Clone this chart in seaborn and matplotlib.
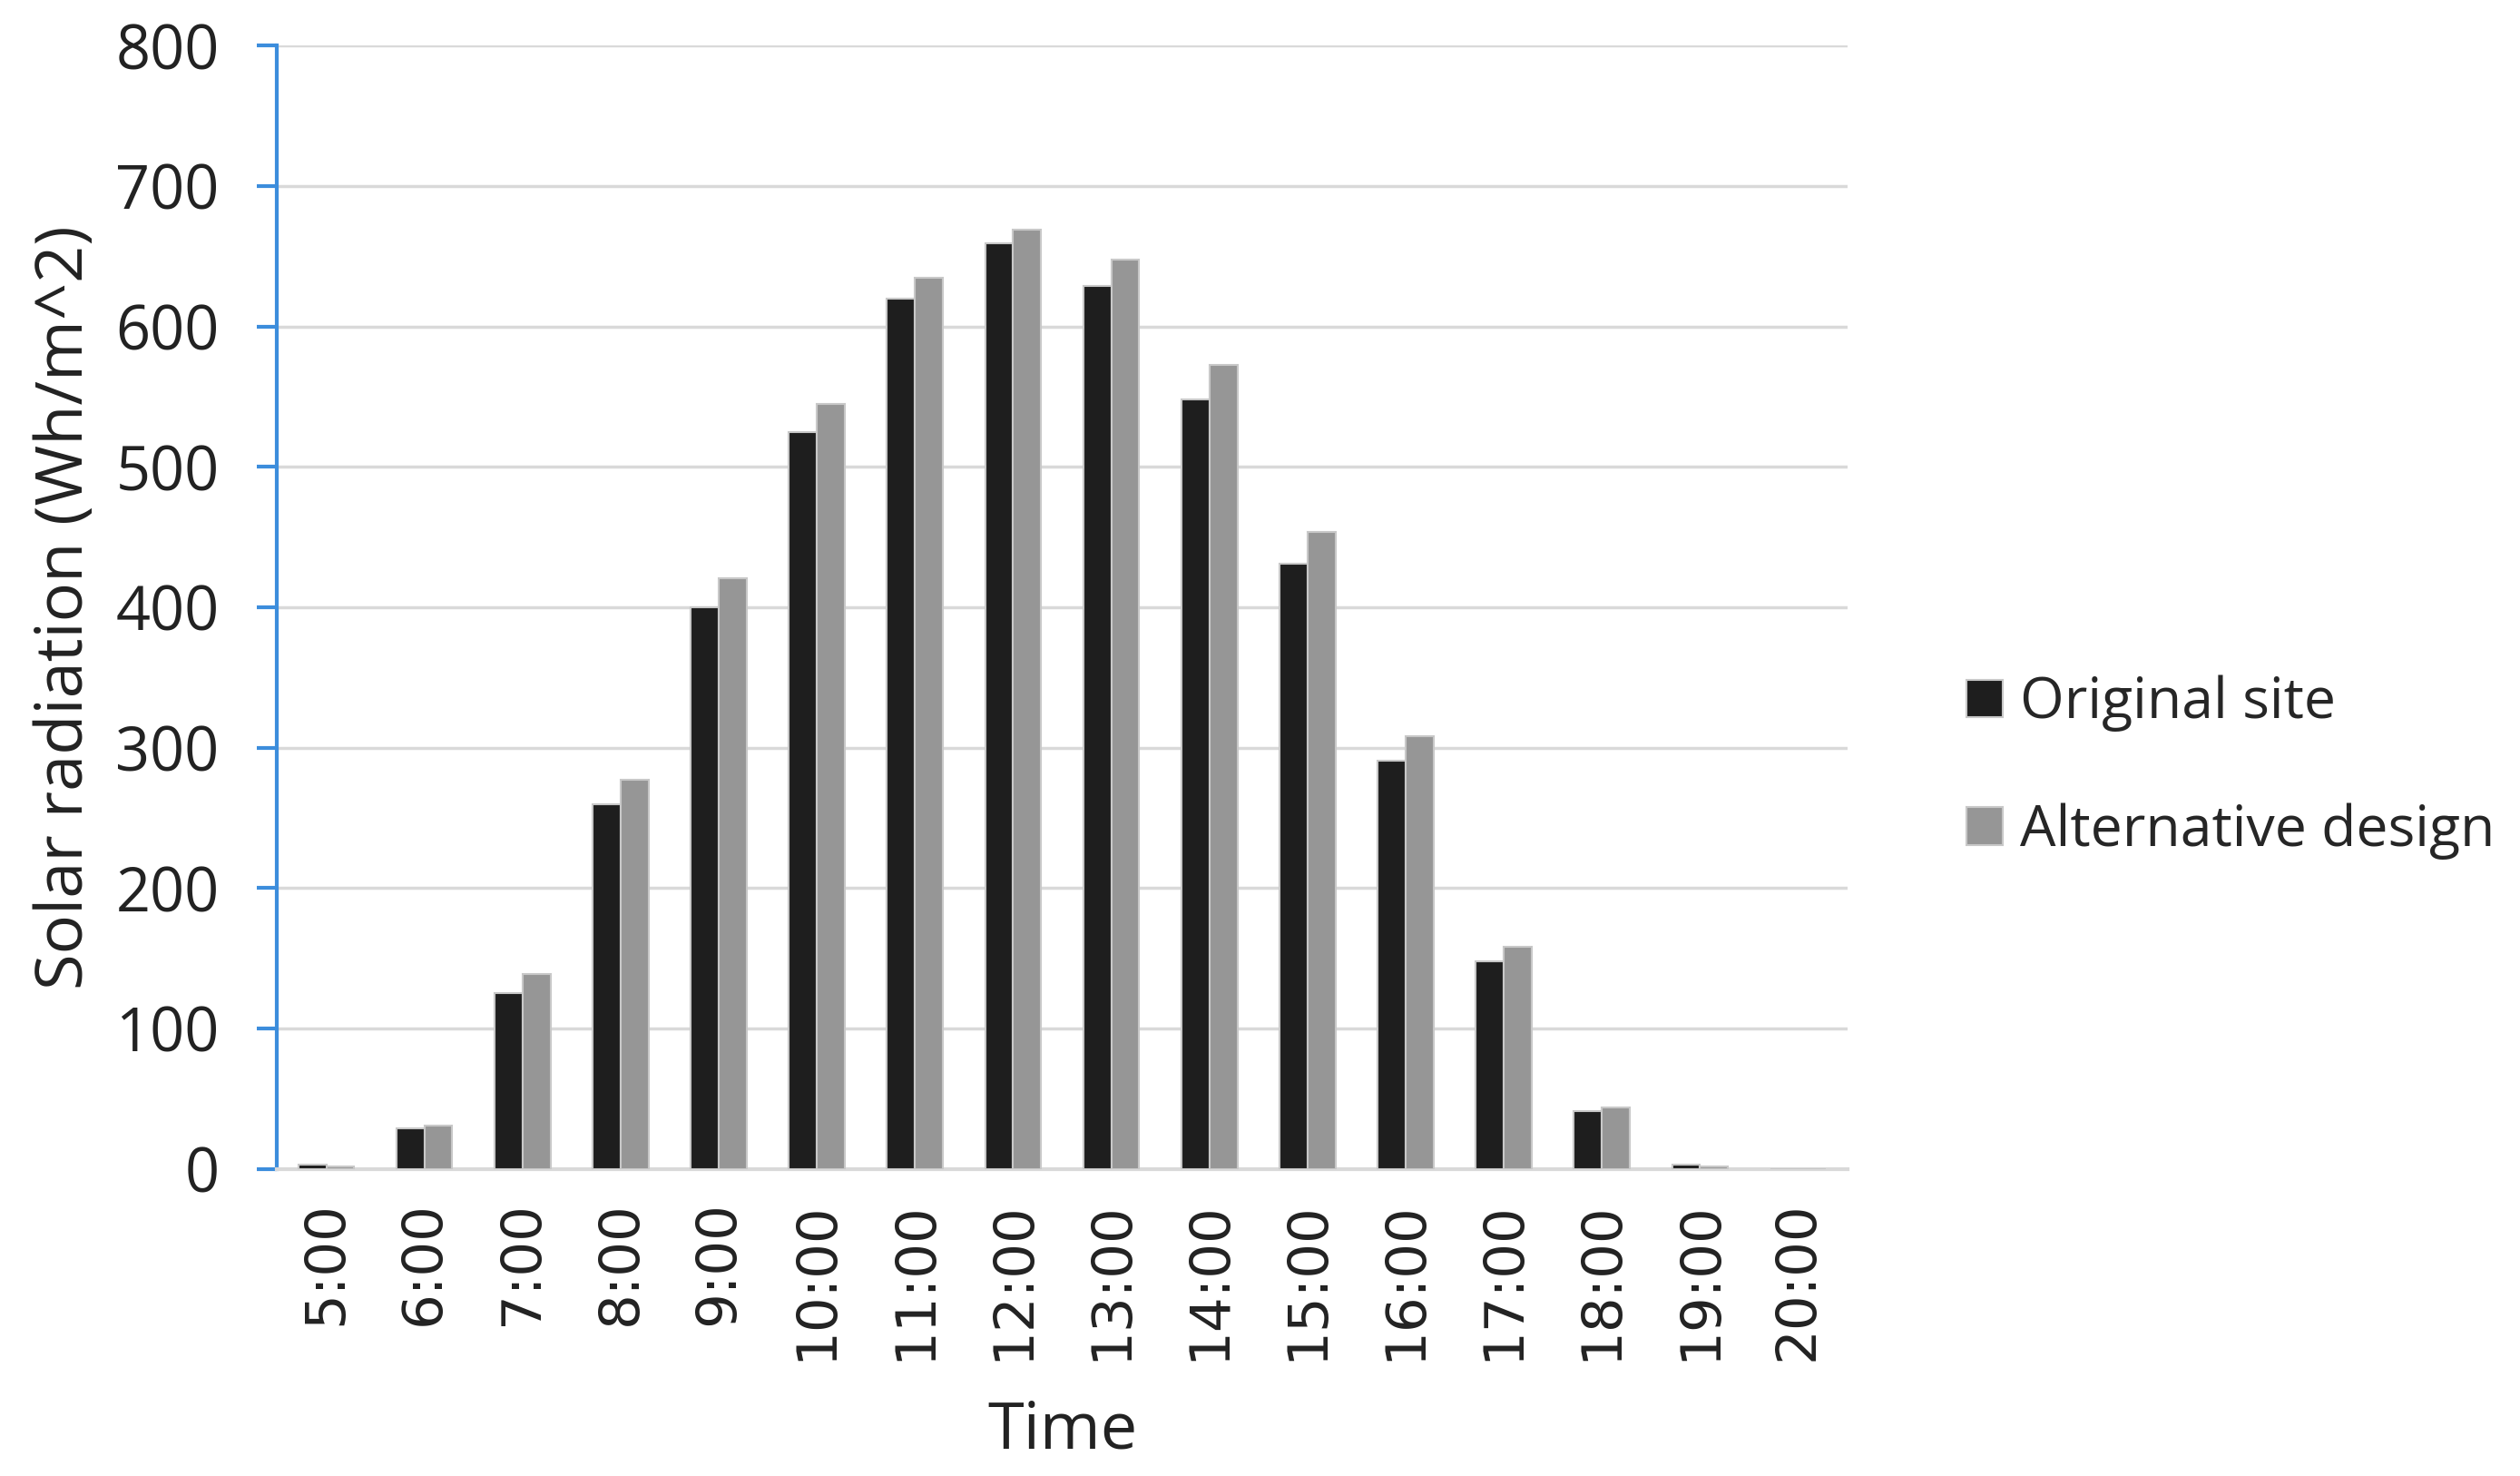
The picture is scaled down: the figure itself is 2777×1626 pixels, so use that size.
import pandas as pd
import matplotlib.pyplot as plt
import seaborn as sns

hours = ['5:00', '6:00', '7:00', '8:00', '9:00', '10:00', '11:00', '12:00',
         '13:00', '14:00', '15:00', '16:00', '17:00', '18:00', '19:00', '20:00']
original_site = [3, 29, 125, 260, 400, 525, 620, 659, 629, 548, 431, 291, 148, 41, 3, 0]
alternative_design = [2, 31, 139, 277, 421, 545, 635, 669, 648, 573, 454, 308, 158, 44, 2, 0]

df = pd.DataFrame({
    'Time': hours * 2,
    'value': original_site + alternative_design,
    'series': ['Original site'] * len(hours) + ['Alternative design'] * len(hours),
})

sns.set_style('white')
plt.rcParams['font.family'] = ['Open Sans', 'DejaVu Sans']

fig = plt.figure(figsize=(27.77, 16.26), dpi=100)
ax = fig.add_axes([0.110, 0.208, 0.623, 0.761])

sns.barplot(data=df, x='Time', y='value', hue='series', order=hours,
            palette={'Original site': '#1e1e1e', 'Alternative design': '#969696'},
            width=0.57, edgecolor='#c8c8c8', linewidth=1.5, ax=ax, zorder=3)

ax.set_ylim(0, 800)
ax.set_yticks(range(0, 801, 100))
ax.yaxis.grid(True, color='#d9d9d9', linewidth=2.5, zorder=0)
ax.set_axisbelow(True)

for s in ['top', 'right']:
    ax.spines[s].set_visible(False)
ax.spines['left'].set_color('#3c8ddc')
ax.spines['left'].set_linewidth(3)
ax.spines['bottom'].set_color('#d9d9d9')
ax.spines['bottom'].set_linewidth(3)

ax.tick_params(axis='y', left=True, length=16, width=3, color='#3c8ddc',
               labelsize=48, pad=30, labelcolor='#222222')
# x labels look stretched in the original, DejaVu gets the proportions closer
ax.tick_params(axis='x', bottom=False, pad=22, labelcolor='#222222',
               labelrotation=90, labelsize=44, labelfontfamily='DejaVu Sans')

ax.set_xlabel('Time', fontsize=52, color='#222222', labelpad=30)
ax.set_ylabel('Solar radiation (Wh/m^2)', fontsize=52, color='#222222', labelpad=14)

handles, labels = ax.get_legend_handles_labels()
ax.legend(handles, labels, loc='center left', bbox_to_anchor=(0.760, 0.48),
          bbox_transform=fig.transFigure, frameon=False, fontsize=45,
          handlelength=0.65, handleheight=0.65, handletextpad=0.3, labelspacing=1.25)

plt.savefig('out.png', dpi=100)
